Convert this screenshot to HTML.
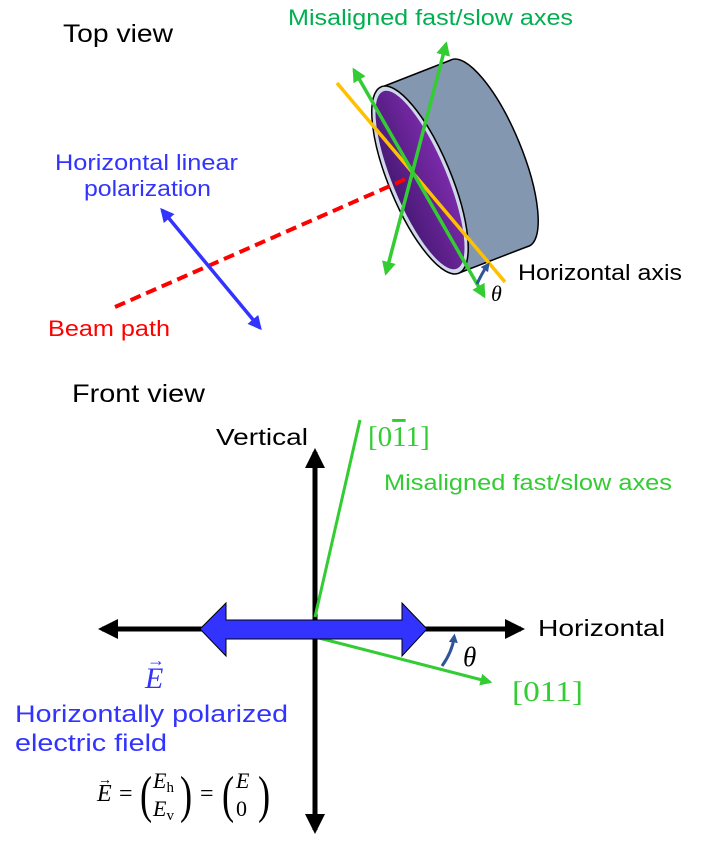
<!DOCTYPE html>
<html><head><meta charset="utf-8"><style>
body{margin:0;background:#fff}
svg{display:block;font-family:"Liberation Sans",sans-serif}
.s{font-family:"Liberation Serif",serif;font-style:italic}
.r{font-family:"Liberation Serif",serif}
</style></head><body>
<svg width="710" height="854" viewBox="0 0 710 854">
<defs>
<marker id="ag" viewBox="0 0 10 10" refX="8" refY="5" markerWidth="4" markerHeight="4" orient="auto-start-reverse"><path d="M0,0L10,5L0,10z" fill="#33cc33"/></marker>
<marker id="ab" viewBox="0 0 10 10" refX="8" refY="5" markerWidth="4" markerHeight="4" orient="auto-start-reverse"><path d="M0,0L10,5L0,10z" fill="#3333ff"/></marker>
<marker id="ak" viewBox="0 0 10 10" refX="8" refY="5" markerWidth="4" markerHeight="4" orient="auto-start-reverse"><path d="M0,0L10,5L0,10z" fill="#000"/></marker>
<marker id="ad" viewBox="0 0 10 10" refX="5" refY="5" markerWidth="3" markerHeight="3" orient="auto"><path d="M0,0L10,5L0,10z" fill="#2f5597"/></marker>
<linearGradient id="pg" x1="0" y1="0" x2="1" y2="0"><stop offset="0" stop-color="#4a1a78"/><stop offset="1" stop-color="#7a2aa8"/></linearGradient>
</defs>

<text x="63" y="42" font-size="25" textLength="110" lengthAdjust="spacingAndGlyphs">Top view</text>
<text x="288" y="25" font-size="22" fill="#00b050" textLength="285" lengthAdjust="spacingAndGlyphs">Misaligned fast/slow axes</text>
<text font-size="22" fill="#3333ff"><tspan x="55" y="170" textLength="183" lengthAdjust="spacingAndGlyphs">Horizontal linear</tspan><tspan x="84" y="196" textLength="127" lengthAdjust="spacingAndGlyphs">polarization</tspan></text>
<text x="48" y="336" font-size="22" fill="#ff0000" textLength="122" lengthAdjust="spacingAndGlyphs">Beam path</text>
<text x="518" y="280" font-size="22" textLength="164" lengthAdjust="spacingAndGlyphs">Horizontal axis</text>
<text x="491" y="301" font-size="22" class="s">θ</text>

<g>
<ellipse cx="490" cy="153" rx="31" ry="101" transform="rotate(-22.6 490 153)" fill="#8497b0" stroke="#000" stroke-width="1.5"/>
<polygon points="382,87 451,60 529,246 459,273" fill="#8497b0"/>
<line x1="382" y1="87" x2="451" y2="60" stroke="#000" stroke-width="1.5"/>
<line x1="459" y1="273" x2="529" y2="246" stroke="#000" stroke-width="1.5"/>
<ellipse cx="420" cy="180" rx="31" ry="101" transform="rotate(-22.6 420 180)" fill="#cfd8e8" stroke="#000" stroke-width="1.5"/>
<ellipse cx="420" cy="180" rx="27" ry="96" transform="rotate(-22.6 420 180)" fill="url(#pg)"/>
</g>
<line x1="115" y1="307" x2="415" y2="175" stroke="#ff0000" stroke-width="4" stroke-dasharray="11,6"/>
<line x1="337" y1="83" x2="505" y2="282" stroke="#ffc000" stroke-width="3.5"/>
<line x1="354" y1="70" x2="484" y2="296" stroke="#33cc33" stroke-width="3.5" marker-start="url(#ag)" marker-end="url(#ag)"/>
<line x1="386" y1="273" x2="446" y2="44" stroke="#33cc33" stroke-width="3.5" marker-start="url(#ag)" marker-end="url(#ag)"/>
<path d="M477,284 Q482,273 487,266" fill="none" stroke="#2f5597" stroke-width="3" marker-end="url(#ad)"/>
<line x1="162" y1="210" x2="260" y2="328" stroke="#3333ff" stroke-width="3.5" marker-start="url(#ab)" marker-end="url(#ab)"/>

<text x="72" y="402" font-size="25" textLength="133" lengthAdjust="spacingAndGlyphs">Front view</text>
<text x="216" y="445" font-size="23" textLength="92" lengthAdjust="spacingAndGlyphs">Vertical</text>
<text x="368" y="446" font-size="29" fill="#33cc33" class="r">[0<tspan text-decoration="overline">1</tspan>1]</text>
<text x="384" y="490" font-size="22" fill="#33cc33" textLength="288" lengthAdjust="spacingAndGlyphs">Misaligned fast/slow axes</text>
<text x="538" y="636" font-size="23" textLength="127" lengthAdjust="spacingAndGlyphs">Horizontal</text>
<text x="463" y="666" font-size="27" class="s">θ</text>
<text x="512" y="701" font-size="29" fill="#33cc33" class="r" textLength="71" lengthAdjust="spacingAndGlyphs">[011]</text>

<line x1="315" y1="452" x2="315" y2="830" stroke="#000" stroke-width="5" marker-start="url(#ak)" marker-end="url(#ak)"/>
<line x1="102" y1="629" x2="521" y2="629" stroke="#000" stroke-width="5" marker-start="url(#ak)" marker-end="url(#ak)"/>
<line x1="315" y1="617" x2="360" y2="420" stroke="#33cc33" stroke-width="3"/>
<line x1="315" y1="637" x2="490" y2="682" stroke="#33cc33" stroke-width="3" marker-end="url(#ag)"/>
<path d="M200,629 L226,603 L226,620 L402,620 L402,603 L427,629 L402,656 L402,639 L226,639 L226,656 Z" fill="#3333ff" stroke="#000" stroke-width="1"/>
<path d="M442,666 Q452,652 454,638" fill="none" stroke="#2f5597" stroke-width="3" marker-end="url(#ad)"/>

<text x="145" y="688" font-size="30" fill="#3333ff" class="s">E</text>
<text x="147" y="666" font-size="18" fill="#3333ff">→</text>
<text font-size="24" fill="#3333ff"><tspan x="15" y="722" textLength="273" lengthAdjust="spacingAndGlyphs">Horizontally polarized</tspan><tspan x="15" y="751" textLength="152" lengthAdjust="spacingAndGlyphs">electric field</tspan></text>
<g font-size="24">
<text x="97" y="801" class="s">E</text>
<text x="98" y="784" font-size="14">→</text>
<text x="119" y="801" class="r">=</text>
<text x="140" y="812" class="r" font-size="52" transform="scale(0.7 1)" transform-origin="140 800">(</text>
<text x="153" y="788" class="s" font-size="22">E<tspan font-size="15" font-style="normal" dy="4">h</tspan></text>
<text x="153" y="816" class="s" font-size="22">E<tspan font-size="15" font-style="normal" dy="4">v</tspan></text>
<text x="180" y="812" class="r" font-size="52" transform="scale(0.7 1)" transform-origin="180 800">)</text>
<text x="200" y="801" class="r">=</text>
<text x="222" y="812" class="r" font-size="52" transform="scale(0.7 1)" transform-origin="222 800">(</text>
<text x="236" y="788" class="s" font-size="22">E</text>
<text x="236" y="816" class="r" font-size="22">0</text>
<text x="258" y="812" class="r" font-size="52" transform="scale(0.7 1)" transform-origin="258 800">)</text>
</g>
</svg>
</body></html>
